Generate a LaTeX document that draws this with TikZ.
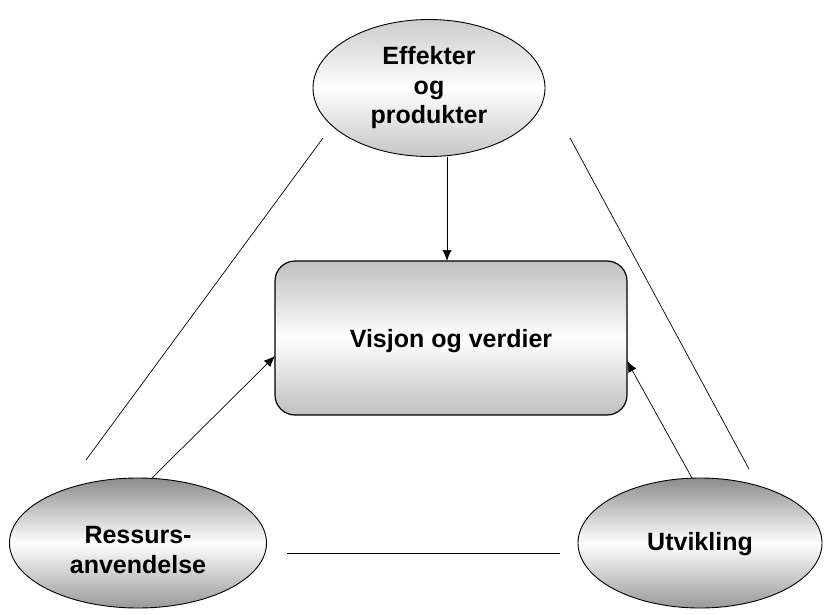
\documentclass[tikz,border=0pt]{standalone}
\usepackage{fontspec}
\setmainfont{Liberation Sans}
\usetikzlibrary{shapes.geometric,arrows.meta}
\begin{document}
\begin{tikzpicture}[x=1pt,y=-1pt,
  lbl/.style={font=\fontsize{25}{29.5}\selectfont\bfseries, align=center},
  ell/.style={draw=black, line width=0.9pt, ellipse, inner sep=0pt},
  topell/.style={ell, top color=gray!40, bottom color=gray!45, middle color=white},
  botell/.style={ell, top color=gray!90, bottom color=gray!80, middle color=white},
  vbox/.style={draw=black, line width=1.2pt, rounded corners=20pt, top color=gray!50, bottom color=gray!50, middle color=white},
  conn/.style={line width=0.7pt},
  arr/.style={conn, -{Latex[length=11pt,width=9pt]}}
]
\useasboundingbox (0,0) rectangle (824,615);
\node[topell, minimum width=232pt, minimum height=137pt] (eff) at (429,88) {};
\node[lbl] at (eff.center) {Effekter\\og\\produkter};
\node[vbox, minimum width=352pt, minimum height=154pt] (vis) at (451,338) {};
\node[lbl] at ([yshift=-3pt]vis.center) {Visjon og verdier};
\node[botell, minimum width=257pt, minimum height=130pt] (res) at (138,543) {};
\node[lbl] at ([yshift=-7pt]res.center) {Ressurs-\\anvendelse};
\node[botell, minimum width=244pt, minimum height=130pt] (utv) at (700,543) {};
\node[lbl] at ([yshift=-1pt]utv.center) {Utvikling};

\coordinate (l1) at (86,460);
\coordinate (l2) at (323,138);
\coordinate (r1) at (570,138);
\coordinate (r2) at (749,469);
\coordinate (b1) at (287,553);
\coordinate (b2) at (560,553);
\coordinate (a1) at (447,157);
\coordinate (a2) at (447,261);
\coordinate (a3) at (152,478);
\coordinate (a4) at (275,356);
\coordinate (a5) at (692,478);
\coordinate (a6) at (627,361);

\draw[conn] (l1) -- (l2);
\draw[conn] (r1) -- (r2);
\draw[conn] (b1) -- (b2);
\draw[arr] (a1) -- (a2);
\draw[arr] (a3) -- (a4);
\draw[arr] (a5) -- (a6);
\end{tikzpicture}
\end{document}
